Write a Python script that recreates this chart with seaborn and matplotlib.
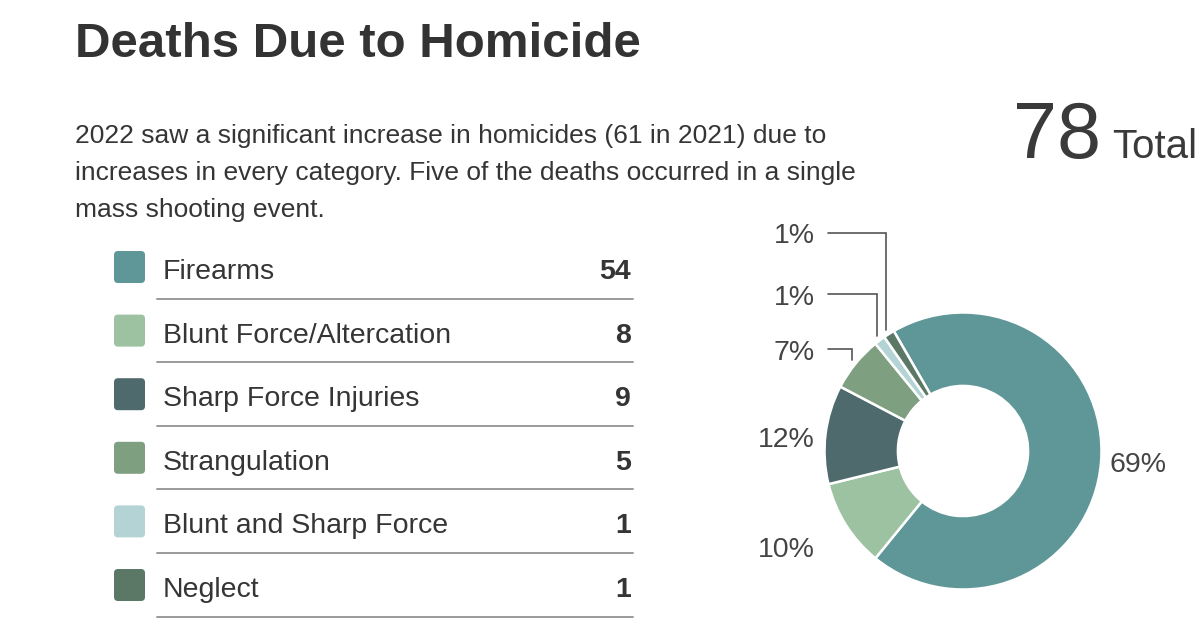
import numpy as np
import matplotlib
matplotlib.use('Agg')
import matplotlib.pyplot as plt
import seaborn as sns
from matplotlib.patches import FancyBboxPatch

# ==========================================
# data
# ==========================================
categories = ['Firearms', 'Blunt Force/Altercation', 'Sharp Force Injuries',
              'Strangulation', 'Blunt and Sharp Force', 'Neglect']
counts = [54, 8, 9, 5, 1, 1]
pct_labels = ['69%', '10%', '12%', '7%', '1%', '1%']
total = 78
colors = ['#5f9697', '#9dc2a2', '#4e6a6d', '#7e9f80', '#b4d3d5', '#5b7766']

title = 'Deaths Due to Homicide'
body_lines = ['2022 saw a significant increase in homicides (61 in 2021) due to',
              'increases in every category. Five of the deaths occurred in a single',
              'mass shooting event.']

# ==========================================
# style
# ==========================================
sns.set_theme(style='white')
plt.rcParams['font.family'] = ['Liberation Sans', 'DejaVu Sans']
txt = '#353535'

fig = plt.figure(figsize=(12, 6.28), dpi=100)
ax = fig.add_axes([0, 0, 1, 1])
ax.set_xlim(0, 1200)
ax.set_ylim(628, 0)
ax.axis('off')

ax.text(75, 57, title, fontsize=35.5, fontweight='bold', color='#333333', va='baseline')
for i, line in enumerate(body_lines):
    ax.text(75, 143 + i * 37, line, fontsize=19, color=txt, va='baseline')

# legend table
row0, step = 279, 63.6
for i, (cat, n, c) in enumerate(zip(categories, counts, colors)):
    base = row0 + i * step
    ax.add_patch(FancyBboxPatch((114, base - 28), 31, 32,
                                boxstyle='round,pad=0,rounding_size=4',
                                facecolor=c, edgecolor='none'))
    ax.text(163, base, cat, fontsize=20.5, color=txt, va='baseline')
    ax.text(631, base, str(n), fontsize=20.5, fontweight='bold', color=txt,
            va='baseline', ha='right')
    ax.plot([157, 633], [base + 19.5, base + 19.5], color='#9a9a9a', lw=1.4)

# total
ax.text(1101, 158, str(total), fontsize=57, color='#3a3a3a', va='baseline', ha='right')
ax.text(1197, 158, 'Total', fontsize=29, color='#3a3a3a', va='baseline', ha='right')

# ==========================================
# donut
# ==========================================
R = 138.5
cx, cy = 963, 451
pax = fig.add_axes([740 / 1200, 0, 460 / 1200, 418 / 628])
pax.patch.set_alpha(0)
start = 120
wedges, _ = pax.pie(counts, colors=colors, startangle=start, counterclock=False,
                    wedgeprops=dict(width=0.53, edgecolor='white', linewidth=1.8))
pax.set_xlim(-(cx - 740) / R, (1200 - cx) / R)
pax.set_ylim(-(628 - cy) / R, (cy - 210) / R)
pax.set_aspect('equal')
pax.axis('off')

# label anchors (data units of the pie axes)
lab_pos = [(1.06, -0.10, 'left'), (-1.07, -0.715, 'right'), (-1.07, 0.08, 'right'),
           (-1.07, 0.71, 'right'), (-1.07, 1.105, 'right'), (-1.07, 1.55, 'right')]
for i, (w, lab) in enumerate(zip(wedges, pct_labels)):
    x, y, ha = lab_pos[i]
    pax.text(x, y, lab, fontsize=20.5, color='#444444', ha=ha, va='center')
    if i >= 3:
        mid = np.deg2rad((w.theta1 + w.theta2) / 2)
        ex, ey = 1.035 * np.cos(mid), 1.035 * np.sin(mid)
        ly = y + 0.025
        pax.plot([-0.975, ex, ex], [ly, ly, ey], color='#555555', lw=1.2,
                 solid_joinstyle='miter')

fig.savefig('out.png', dpi=100, facecolor='white')
